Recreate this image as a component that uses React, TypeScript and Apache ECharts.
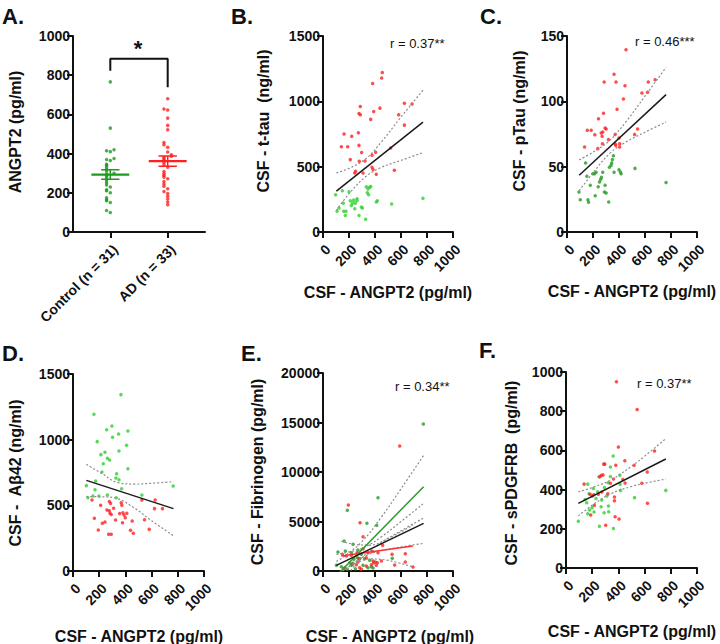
import React, { useEffect, useRef } from "react";
import * as echarts from "echarts";

const FONT = '"Liberation Sans", Arial, Helvetica, sans-serif';

// ---------- Panel A : ANGPT2 by group ----------
const groupNames = ["Control (n = 31)", "AD (n = 33)"];
const controlANGPT2 = [766, 530, 420, 415, 410, 375, 370, 365, 345, 340, 330, 320, 310, 300, 295, 290, 280, 270, 260, 250, 240, 230, 215, 210, 200, 175, 165, 160, 150, 110, 100];
const adANGPT2 = [680, 627, 622, 581, 544, 522, 457, 445, 432, 408, 394, 386, 381, 374, 366, 355, 343, 331, 309, 297, 289, 280, 272, 258, 245, 233, 221, 207, 196, 182, 168, 153, 139];
const groupMean = [293, 362];
const groupSEM = [24, 26];
const bracketLevels = [823, 884, 738]; // left leg bottom, bar, right leg bottom

// ---------- Panel B : t-tau ----------
const ttauControl = [[97,285],[149,315],[200,308],[108,158],[159,158],[177,158],[172,127],[156,221],[210,239],[226,221],[236,244],[249,221],[262,254],[244,178],[218,203],[277,127],[295,191],[303,183],[328,97],[333,346],[346,330],[359,343],[367,348],[341,300],[351,285],[410,229],[418,239],[528,214],[769,259],[262,241],[123,183]];
const ttauAD = [[456,1220],[451,1179],[382,1136],[287,960],[277,907],[287,897],[438,948],[390,923],[367,862],[582,897],[626,986],[685,979],[626,818],[162,750],[221,732],[272,760],[141,653],[190,653],[277,663],[297,608],[377,587],[405,610],[210,554],[279,541],[323,544],[520,643],[244,452],[251,465],[308,452],[377,496],[385,478],[410,442],[549,473]];
const ttauFit = [[103,313],[769,841]];
const ttauUpper = [[103,452],[200,487],[330,561],[450,690],[600,880],[769,1085]];
const ttauLower = [[103,165],[200,293],[330,425],[450,495],[600,548],[769,608]];

// ---------- Panel C : pTau ----------
const ptauControl = [[92,30.6],[143,52.8],[102,24.7],[161,24.7],[166,22.7],[153,42.6],[179,35.7],[199,44.6],[212,44.6],[224,45.7],[217,27.8],[240,34.7],[250,38.3],[258,40.1],[265,41.8],[275,45.7],[293,35.7],[288,30.6],[301,29.8],[321,23.0],[326,49.5],[339,51.0],[344,52.8],[349,55.4],[357,58.4],[362,45.7],[400,47.7],[411,45.9],[416,44.6],[523,48.7],[762,37.8]];
const ptauAD = [[454,139.5],[362,120.7],[286,114.8],[377,114.8],[446,112.0],[625,114.8],[678,116.6],[576,106.4],[620,106.9],[434,101.8],[385,93.9],[281,90.8],[242,86.7],[156,77.8],[186,77.8],[293,79.6],[301,78.8],[214,74.5],[270,73.2],[275,76.5],[370,74.7],[319,70.7],[135,65.1],[237,63.8],[273,67.6],[370,67.6],[375,66.3],[405,67.6],[405,65.1],[520,74.7],[543,78.8],[400,71.9],[263,75.8]];
const ptauFit = [[94,43.4],[762,105.1]];
const ptauUpper = [[94,55.2],[200,61.1],[330,70.2],[450,83.9],[600,104],[762,126]];
const ptauLower = [[94,31.6],[200,45.3],[330,60.2],[450,68.7],[600,76.4],[762,84.2]];

// ---------- Panel D : Abeta42 ----------
const abControl = [[366,1343],[160,1193],[257,1076],[297,1104],[348,1043],[419,1066],[302,1018],[185,985],[409,957],[351,914],[244,904],[213,886],[262,858],[279,845],[231,817],[419,779],[221,754],[333,741],[328,708],[351,695],[173,685],[102,650],[168,619],[371,627],[114,558],[152,571],[198,571],[262,579],[330,558],[526,579],[765,647]];
const abAD = [[145,541],[211,500],[163,401],[193,312],[224,363],[244,373],[272,280],[292,280],[277,459],[259,464],[282,439],[292,431],[277,530],[287,515],[310,477],[325,388],[356,437],[368,520],[373,500],[381,444],[389,426],[399,406],[411,439],[378,368],[452,381],[439,310],[460,287],[546,391],[582,317],[526,541],[627,541],[622,475],[683,475]];
const abFit = [[102,690],[767,475]];
const abUpper = [[102,812],[216,745],[343,673],[470,662],[597,668],[767,680]];
const abLower = [[102,566],[216,565],[343,550],[470,478],[597,385],[767,268]];

// ---------- Panel E : Fibrinogen ----------
const fibControl = [[772,14850],[423,7407],[187,6128],[338,4815],[413,4613],[162,3030],[231,2694],[115,1919],[172,2020],[218,1852],[269,2121],[295,1684],[238,1178],[264,1347],[282,1246],[205,842],[231,774],[320,1246],[359,1077],[403,909],[533,1279],[141,438],[167,337],[187,168],[249,236],[346,337],[372,438],[385,303],[103,572],[218,572],[308,572]];
const fibAD = [[590,12626],[195,6667],[285,4882],[308,3468],[459,2593],[149,1684],[179,1515],[218,1582],[262,1852],[308,2256],[346,1852],[379,1987],[423,1852],[277,1246],[333,1347],[385,1010],[418,842],[449,1010],[531,1684],[633,1751],[633,909],[551,606],[692,404],[256,640],[282,337],[295,168],[333,505],[372,640],[390,842],[410,572],[226,673],[269,909],[162,236]];
const fibAllFit = [[103,572],[774,4815]];
const fibAllUpper = [[103,1675],[250,2074],[330,2457],[450,3462],[600,4992],[774,6835]];
const fibAllLower = [[103,-531],[250,928],[330,1557],[450,2068],[600,2434],[774,2795]];
const fibCtrlFit = [[103,-476],[774,8515]];
const fibCtrlUpper = [[103,952],[150,1348],[300,2970],[450,5464],[600,8302],[774,11680]];
const fibCtrlLower = [[103,-1904],[150,-1040],[300,1358],[450,2884],[600,4066],[774,5350]];
const fibADFit = [[141,1515],[692,2525]];
const fibADUpper = [[141,3010],[250,2679],[360,2616],[500,3270],[692,4646]];
const fibADLower = [[141,20],[250,751],[360,1216],[500,1076],[692,404]];

// ---------- Panel F : sPDGFRB ----------
const pdgfControl = [[360,571],[339,515],[252,466],[339,467],[411,473],[166,428],[321,435],[293,411],[209,406],[413,427],[176,379],[242,389],[416,396],[145,350],[158,333],[229,355],[273,347],[199,308],[268,313],[324,316],[166,277],[214,286],[291,282],[326,287],[523,359],[94,238],[255,213],[362,201],[762,396],[179,296],[311,367]];
const pdgfAD = [[385,950],[543,809],[400,617],[449,547],[520,524],[676,597],[620,490],[579,432],[622,330],[288,530],[296,530],[380,524],[270,473],[283,474],[258,466],[362,454],[434,452],[451,434],[138,428],[273,388],[247,376],[212,374],[201,367],[319,379],[370,362],[370,343],[217,320],[189,270],[375,262],[405,250],[303,218],[184,376],[339,432]];
const pdgfFit = [[94,330],[762,556]];
const pdgfUpper = [[94,388],[220,415],[350,452],[500,519],[600,570],[762,660]];
const pdgfLower = [[94,266],[220,330],[350,381],[500,416],[600,432],[762,454]];

const RED = "#ff1f1f";

function swarm(values: number[], center: number, bin: number, step: number) {
  const order = values.map((_, i) => i).sort((a, b) => values[a] - values[b]);
  const placed: number[] = [];
  const out: number[][] = new Array(values.length);
  for (const i of order) {
    const v = values[i];
    const k = placed.filter((p) => Math.abs(p - v) < bin).length;
    const off = k === 0 ? 0 : (k % 2 === 1 ? -1 : 1) * Math.ceil(k / 2) * step;
    out[i] = [center + off, v];
    placed.push(v);
  }
  return out;
}

const axisLineStyle = { color: "#111", width: 2 };
function baseAxis(extra: any, label: any) {
  return {
    type: "value",
    axisLine: { show: true, onZero: false, lineStyle: axisLineStyle },
    axisTick: { show: true, length: 6, lineStyle: axisLineStyle },
    splitLine: { show: false },
    axisLabel: {
      color: "#111",
      fontFamily: FONT,
      fontWeight: "bold",
      fontSize: 14,
      margin: 3,
      formatter: (v: number) => String(v),
      ...label,
    },
    ...extra,
  };
}

function buildOption() {
  const grids = [
    { left: 73, top: 36, width: 132, height: 196 },
    { left: 323, top: 36, width: 130, height: 196 },
    { left: 567, top: 36, width: 130, height: 196 },
    { left: 73, top: 374, width: 131, height: 197 },
    { left: 323, top: 373, width: 130, height: 198 },
    { left: 566, top: 372, width: 131, height: 196 },
  ];
  const yRanges = [
    [1000, 200],
    [1500, 500],
    [150, 50],
    [1500, 500],
    [20000, 5000],
    [1000, 200],
  ];
  const rotLabel = { rotate: 45, align: "right", verticalAlign: "top", margin: 10 };
  const xAxis: any[] = [];
  const yAxis: any[] = [];
  xAxis.push(
    baseAxis(
      {
        gridIndex: 0,
        min: 0.35,
        max: 2.65,
        axisTick: { show: true, length: 6, lineStyle: axisLineStyle, customValues: [1, 2] },
      },
      { ...rotLabel, customValues: [1, 2], formatter: (v: number) => groupNames[Math.round(v) - 1] || "" }
    )
  );
  for (let i = 1; i < 6; i++) {
    xAxis.push(baseAxis({ gridIndex: i, min: 0, max: 1000, interval: 200 }, rotLabel));
  }
  for (let i = 0; i < 6; i++) {
    yAxis.push(baseAxis({ gridIndex: i, min: 0, max: yRanges[i][0], interval: yRanges[i][1] }, {}));
  }

  const series: any[] = [];
  const dot = (idx: number, data: any, color: string, size = 3.5) => ({
    type: "scatter",
    xAxisIndex: idx,
    yAxisIndex: idx,
    data,
    symbol: "circle",
    symbolSize: size,
    itemStyle: { color },
    silent: true,
  });
  const line = (idx: number, data: any, color: string, width: number, dotted: boolean, z = 3) => ({
    type: "line",
    xAxisIndex: idx,
    yAxisIndex: idx,
    data,
    symbol: "none",
    smooth: dotted ? 0.4 : false,
    clip: true,
    z,
    lineStyle: { color, width, type: dotted ? [2, 2] : "solid" },
    silent: true,
  });

  // Panel A
  const greenA = "#1f9a1f";
  series.push(dot(0, swarm(controlANGPT2, 1, 14, 0.065), greenA, 3.5));
  series.push(dot(0, swarm(adANGPT2, 2, 14, 0.065), RED, 3.5));
  const groupColors = [greenA, RED];
  [1, 2].forEach((c, gi) => {
    const m = groupMean[gi];
    const s = groupSEM[gi];
    series.push(line(0, [[c - 0.33, m], [c + 0.33, m]], groupColors[gi], 2.2, false, 5));
    series.push(line(0, [[c - 0.16, m + s], [c + 0.16, m + s]], groupColors[gi], 1.5, false, 5));
    series.push(line(0, [[c - 0.16, m - s], [c + 0.16, m - s]], groupColors[gi], 1.5, false, 5));
    series.push(line(0, [[c, m - s], [c, m + s]], groupColors[gi], 1.5, false, 5));
  });
  series.push(
    line(0, [[1, bracketLevels[0]], [1, bracketLevels[1]], [2, bracketLevels[1]], [2, bracketLevels[2]]], "#111", 2, false, 5)
  );

  // Scatter panels
  const panels = [
    { idx: 1, ctrl: ttauControl, ad: ttauAD, green: "#2fcf2f", fits: [[ttauFit, ttauUpper, ttauLower, "#1a1a1a"]] },
    { idx: 2, ctrl: ptauControl, ad: ptauAD, green: "#239a23", fits: [[ptauFit, ptauUpper, ptauLower, "#1a1a1a"]] },
    { idx: 3, ctrl: abControl, ad: abAD, green: "#2fcf2f", fits: [[abFit, abUpper, abLower, "#1a1a1a"]] },
    {
      idx: 4,
      ctrl: fibControl,
      ad: fibAD,
      green: "#239a23",
      fits: [
        [fibCtrlFit, fibCtrlUpper, fibCtrlLower, "#2e9a2e"],
        [fibADFit, fibADUpper, fibADLower, "#ff3030"],
        [fibAllFit, fibAllUpper, fibAllLower, "#1a1a1a"],
      ],
    },
    { idx: 5, ctrl: pdgfControl, ad: pdgfAD, green: "#2fcf2f", fits: [[pdgfFit, pdgfUpper, pdgfLower, "#1a1a1a"]] },
  ];
  panels.forEach((p) => {
    series.push(dot(p.idx, p.ctrl, p.green));
    series.push(dot(p.idx, p.ad, RED));
    p.fits.forEach((f: any) => {
      series.push(line(p.idx, f[1], "#8c8c8c", 1.2, true, 4));
      series.push(line(p.idx, f[2], "#8c8c8c", 1.2, true, 4));
      series.push(line(p.idx, f[0], f[3], 1.5, false, 5));
    });
  });

  const txt = (text: string, x: number, y: number, opts: any = {}) => ({
    type: "text",
    x,
    y,
    rotation: opts.rotation || 0,
    style: {
      text,
      fill: "#111",
      font: `${opts.weight || "bold"} ${opts.size || 16}px ${FONT}`,
      align: opts.align || "center",
      verticalAlign: opts.valign || "middle",
    },
    silent: true,
  });
  const V = Math.PI / 2;
  const graphic: any[] = [
    txt("A.", 2, 16, { size: 22, align: "left" }),
    txt("B.", 231, 16, { size: 22, align: "left" }),
    txt("C.", 480, 16, { size: 22, align: "left" }),
    txt("D.", 2, 353, { size: 22, align: "left" }),
    txt("E.", 241, 353, { size: 22, align: "left" }),
    txt("F.", 479, 350, { size: 22, align: "left" }),
    txt("*", 138, 48, { size: 22 }),
    txt("ANGPT2 (pg/ml)", 15, 132, { rotation: V }),
    txt("CSF - t-tau  (ng/ml)", 263, 121, { rotation: V }),
    txt("CSF - pTau (ng/ml)", 519, 121, { rotation: V }),
    txt("CSF -  A\u03b242 (ng/ml)", 15, 473, { rotation: V }),
    txt("CSF - Fibrinogen (pg/ml)", 257, 472, { rotation: V }),
    txt("CSF - sPDGFRB  (pg/ml)", 511, 473, { rotation: V }),
    txt("CSF - ANGPT2 (pg/ml)", 388, 292),
    txt("CSF - ANGPT2 (pg/ml)", 632, 291),
    txt("CSF - ANGPT2 (pg/ml)", 139, 636),
    txt("CSF - ANGPT2 (pg/ml)", 390, 636),
    txt("CSF - ANGPT2 (pg/ml)", 632, 631),
    txt("r = 0.37**", 390, 43, { size: 13, weight: "normal", align: "left" }),
    txt("r = 0.46***", 635, 41, { size: 13, weight: "normal", align: "left" }),
    txt("r = 0.34**", 395, 386, { size: 13, weight: "normal", align: "left" }),
    txt("r = 0.37**", 637, 383, { size: 13, weight: "normal", align: "left" }),
  ];

  return {
    animation: false,
    backgroundColor: "#ffffff",
    grid: grids,
    xAxis,
    yAxis,
    series,
    graphic,
  };
}

export default function App() {
  const ref = useRef<HTMLDivElement>(null);
  useEffect(() => {
    const chart = echarts.init(ref.current!, null, { renderer: "svg" });
    chart.setOption(buildOption() as any);
    return () => chart.dispose();
  }, []);
  return (
    <div
      ref={ref}
      style={{ position: "fixed", left: 0, top: 0, width: 720, height: 644, background: "#fff" }}
    />
  );
}
